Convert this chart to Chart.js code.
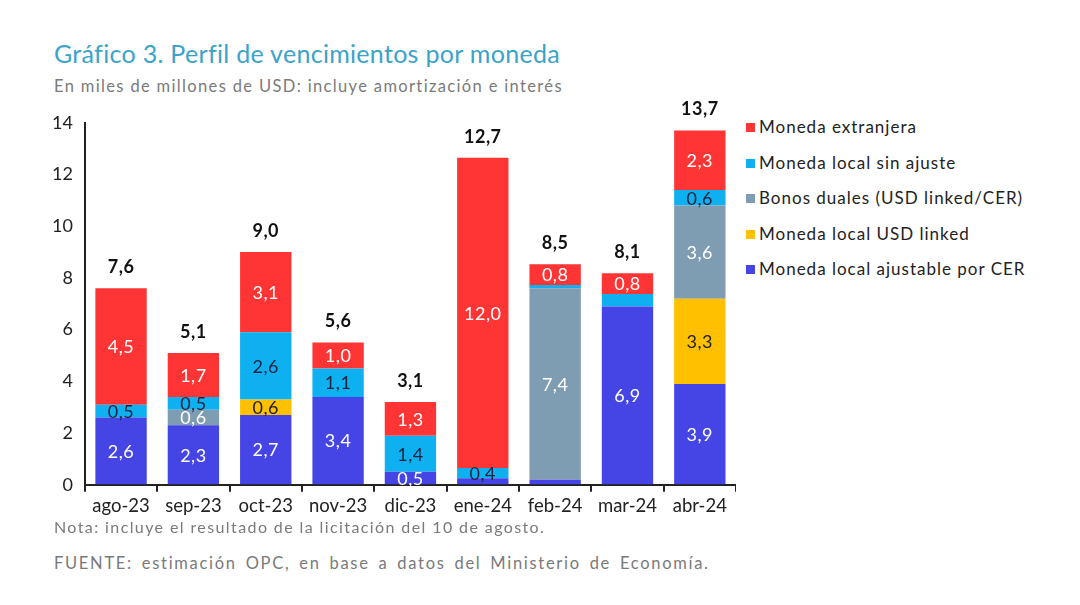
<!DOCTYPE html>
<html>
<head>
<meta charset="utf-8">
<script src="https://cdn.jsdelivr.net/npm/chart.js@4"></script>
<style>
body{margin:0;background:#fff;width:1080px;height:605px;overflow:hidden;font-family:Lato,"Open Sans",sans-serif;position:relative}
#titulo{position:absolute;left:54px;top:38px;font-size:25px;color:#3aa3c9;letter-spacing:0.3px}
#sub{position:absolute;left:54px;top:76px;font-size:16.5px;color:#7a7a7a;letter-spacing:1.35px}
#wrap{position:absolute;left:40px;top:100px;width:696px;height:420px}
#leyenda{position:absolute;left:746px;top:116px;font-size:17px;color:#222}
#leyenda div{height:35.5px;white-space:nowrap;letter-spacing:1px}
#leyenda span{display:inline-block;width:9px;height:9px;margin-right:4px;vertical-align:1px}
#nota{position:absolute;left:54px;top:517px;font-size:16px;color:#7a7a7a;letter-spacing:1.4px}
#fuente{position:absolute;left:54px;top:553px;font-size:16.5px;color:#7a7a7a;letter-spacing:1.7px;word-spacing:3px}
</style>
</head>
<body>
<div id="titulo">Gráfico 3. Perfil de vencimientos por moneda</div>
<div id="sub">En miles de millones de USD: incluye amortización e interés</div>
<div id="wrap"><canvas id="myChart"></canvas></div>
<div id="leyenda"></div>
<div id="nota">Nota: incluye el resultado de la licitación del 10 de agosto.</div>
<div id="fuente">FUENTE: estimación OPC, en base a datos del Ministerio de Economía.</div>
<script>
const meses=["ago-23","sep-23","oct-23","nov-23","dic-23","ene-24","feb-24","mar-24","abr-24"]
const cer=[2.6,2.3,2.7,3.4,0.5,0.25,0.2,6.9,3.9]
const usdLinked=[0,0,0.6,0,0,0,0,0,3.3]
const duales=[0,0.6,0,0,0,0,7.4,0,3.6]
const sinAjuste=[0.5,0.5,2.6,1.1,1.4,0.4,0.13,0.48,0.6]
const extranjera=[4.5,1.7,3.1,1.0,1.3,12.0,0.8,0.8,2.3]
const totales=[7.6,5.1,9.0,5.6,3.1,12.7,8.5,8.1,13.7]
const yTicks=[0,2,4,6,8,10,12,14]

// series drawn bottom to top
const series=[
  {nombre:"Moneda local ajustable por CER",data:cer,color:"#4545e6",txt:"#fff"},
  {nombre:"Moneda local USD linked",data:usdLinked,color:"#ffc000",txt:"#222"},
  {nombre:"Bonos duales (USD linked/CER)",data:duales,color:"#7f9db2",txt:"#fff"},
  {nombre:"Moneda local sin ajuste",data:sinAjuste,color:"#0fb0f0",txt:"#1b2340"},
  {nombre:"Moneda extranjera",data:extranjera,color:"#ff3535",txt:"#fff"},
]
// segment labels not shown in the original [serie, mes]
const ocultos=[[0,5],[0,6],[3,6],[3,7]]

const coma=v=>v.toFixed(1).replace(".",",")

let leyendaHtml=""
series.slice().reverse().forEach(s=>{
  leyendaHtml+=`<div><span style="background:${s.color}"></span>${s.nombre}</div>`
})
document.getElementById("leyenda").innerHTML=leyendaHtml

const etiquetas={
  id:"etiquetas",
  afterDatasetsDraw(chart){
    const ctx=chart.ctx
    ctx.save()
    ctx.textAlign="center"
    ctx.textBaseline="middle"
    ctx.font="18px Lato"
    ctx.letterSpacing="0.5px"
    chart.data.datasets.forEach((ds,i)=>{
      const meta=chart.getDatasetMeta(i)
      meta.data.forEach((bar,j)=>{
        const v=ds.data[j]
        if(!v) return
        if(ocultos.some(o=>o[0]==i&&o[1]==j)) return
        ctx.fillStyle=series[i].txt
        ctx.fillText(coma(v),bar.x,(bar.y+bar.base)/2+1)
      })
    })
    const y=chart.scales.y
    const m0=chart.getDatasetMeta(0)
    ctx.font="bold 18px Lato"
    ctx.fillStyle="#111"
    totales.forEach((t,j)=>{
      let suma=0
      series.forEach(s=>suma+=s.data[j])
      ctx.fillText(coma(t),m0.data[j].x,y.getPixelForValue(suma)-21)
    })
    ctx.restore()
  }
}

var ctx=document.getElementById("myChart").getContext("2d")
let myChart=new Chart(ctx,{
  type:"bar",
  data:{
    labels:meses,
    datasets:series.map(s=>({
      label:s.nombre,
      data:s.data,
      backgroundColor:s.color,
      barPercentage:0.71,
      categoryPercentage:1,
    }))
  },
  options:{
    responsive:true,
    maintainAspectRatio:false,
    animation:false,
    layout:{padding:{left:0,right:0,top:19,bottom:0}},
    plugins:{legend:{display:false},tooltip:{enabled:false}},
    scales:{
      x:{
        stacked:true,
        grid:{offset:true,drawOnChartArea:false,drawTicks:true,tickLength:7,color:"#222",lineWidth:2},
        border:{color:"#222",width:2},
        ticks:{color:"#222",font:{size:18.5,family:"Lato"},padding:3},
      },
      y:{
        stacked:true,
        min:0,max:14,
        afterBuildTicks:ax=>{ax.ticks=yTicks.map(v=>({value:v}))},
        grid:{drawOnChartArea:false,drawTicks:false},
        border:{color:"#222",width:2},
        ticks:{color:"#222",font:{size:18,family:"Lato"},padding:12},
      }
    }
  },
  plugins:[etiquetas]
})
</script>
</body>
</html>
